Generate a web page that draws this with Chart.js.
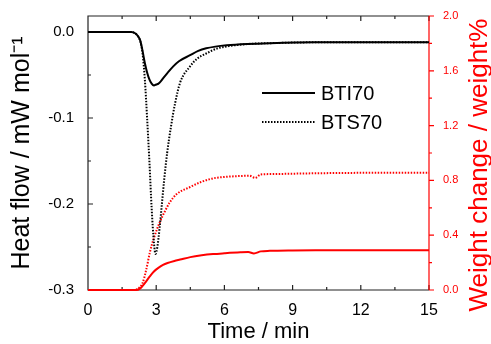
<!DOCTYPE html>
<html>
<head>
<meta charset="utf-8">
<script src="https://cdn.jsdelivr.net/npm/chart.js@4.4.1/dist/chart.umd.min.js"></script>
<style>
  html, body { margin: 0; padding: 0; background: #fff; }
</style>
</head>
<body>
<canvas id="myChart" width="491" height="344"></canvas>
<script>
const FONT = 'Arial, "Liberation Sans", sans-serif';

// heat flow, BTI70 (solid)
const btiHeatTime = [0, 1, 1.9, 2.0, 2.1, 2.2, 2.3, 2.4, 2.5, 2.6, 2.7, 2.8, 2.9, 3.0, 3.1, 3.2, 3.3, 3.5, 3.75, 4.0, 4.49, 4.85, 5.2, 5.6, 6.1, 7, 8, 10, 12, 15];
const btiHeat = [0, 0, 0, -0.0005, -0.002, -0.005, -0.01, -0.022, -0.036, -0.047, -0.055, -0.060, -0.0622, -0.061, -0.060, -0.0575, -0.054, -0.0475, -0.040, -0.034, -0.027, -0.022, -0.019, -0.017, -0.0155, -0.014, -0.013, -0.012, -0.012, -0.012];

// heat flow, BTS70 (dotted)
const btsHeatTime = [0, 1, 1.9, 2.0, 2.2, 2.3, 2.4, 2.5, 2.6, 2.7, 2.8, 2.9, 2.97, 3.05, 3.15, 3.25, 3.35, 3.48, 3.65, 3.83, 4.05, 4.49, 4.8, 5.2, 5.7, 6.3, 7, 8, 10, 12, 15];
const btsHeat = [0, 0, 0, -0.0005, -0.005, -0.011, -0.025, -0.055, -0.1, -0.15, -0.205, -0.245, -0.258, -0.25, -0.228, -0.2, -0.172, -0.141, -0.11, -0.083, -0.059, -0.040, -0.031, -0.025, -0.019, -0.016, -0.014, -0.013, -0.012, -0.012, -0.012];

// weight change, BTI70 (solid red)
const btiWeightTime = [0, 1, 2.1, 2.3, 2.5, 2.7, 2.9, 3.08, 3.3, 3.5, 3.8, 4.05, 4.5, 5.0, 5.5, 6.0, 6.7, 7.05, 7.3, 7.6, 8, 9, 10, 12, 15];
const btiWeight = [0, 0, 0, 0.012, 0.05, 0.095, 0.135, 0.16, 0.183, 0.197, 0.212, 0.222, 0.24, 0.253, 0.262, 0.268, 0.275, 0.277, 0.267, 0.282, 0.286, 0.289, 0.29, 0.29, 0.29];

// weight change, BTS70 (dotted red)
const btsWeightTime = [0, 1, 2.0, 2.2, 2.4, 2.55, 2.73, 2.9, 3.17, 3.4, 3.6, 3.9, 4.47, 5.0, 5.5, 6.0, 6.7, 7.1, 7.35, 7.6, 8, 10, 12, 15];
const btsWeight = [0, 0, 0, 0.01, 0.05, 0.14, 0.28, 0.38, 0.5, 0.58, 0.64, 0.7, 0.75, 0.79, 0.815, 0.825, 0.832, 0.834, 0.818, 0.843, 0.846, 0.852, 0.855, 0.855];

const xTicks = [0, 1.5, 3, 4.5, 6, 7.5, 9, 10.5, 12, 13.5, 15];
const heatTicks = [-0.3, -0.25, -0.2, -0.15, -0.1, -0.05, 0];
const weightTicks = [0, 0.2, 0.4, 0.6, 0.8, 1.0, 1.2, 1.4, 1.6, 1.8, 2.0];
const legendNames = ['BTI70', 'BTS70'];

const pts = (ts, vs) => ts.map((t, i) => ({x: t, y: vs[i]}));
const isMajor = (v, step) => Math.abs(v / step - Math.round(v / step)) < 1e-6;

// frame + inward/outward tick marks, drawn before the lines
const framePlugin = {
  id: 'frame',
  beforeDatasetsDraw(chart) {
    const c = chart.ctx;
    const {left, right, top, bottom} = chart.chartArea;
    const x = chart.scales.x, y = chart.scales.y, y1 = chart.scales.y1;
    c.save();
    c.lineWidth = 1.2;
    c.strokeStyle = '#222';
    c.beginPath();
    c.moveTo(right, top); c.lineTo(left, top); c.lineTo(left, bottom); c.lineTo(right, bottom);
    xTicks.forEach(v => {
      const px = x.getPixelForValue(v);
      const len = isMajor(v, 3) ? 5 : 3;
      c.moveTo(px, bottom); c.lineTo(px, bottom - len);
      c.moveTo(px, top); c.lineTo(px, top + len);
    });
    heatTicks.forEach(v => {
      const py = y.getPixelForValue(v);
      const len = isMajor(v, 0.1) ? 5 : 3;
      c.moveTo(left, py); c.lineTo(left + len, py);
    });
    c.stroke();
    c.strokeStyle = '#ff0000';
    c.beginPath();
    c.moveTo(right, top); c.lineTo(right, bottom);
    weightTicks.forEach(v => {
      const py = y1.getPixelForValue(v);
      const len = isMajor(v, 0.4) ? 5 : 3;
      c.moveTo(right, py); c.lineTo(right + len, py);
    });
    c.stroke();
    c.restore();
  },
  afterDraw(chart) {
    const c = chart.ctx;
    c.save();
    // right axis title, reading bottom to top
    c.fillStyle = '#ff0000';
    c.font = '26px ' + FONT;
    c.textAlign = 'center';
    c.textBaseline = 'middle';
    c.translate(480, 165);
    c.rotate(-Math.PI / 2);
    c.fillText('Weight change / weight%', 0, 0);
    c.restore();

    // legend
    c.save();
    c.strokeStyle = '#000';
    c.lineWidth = 2;
    c.fillStyle = '#000';
    c.font = '20px ' + FONT;
    c.textBaseline = 'middle';
    c.textAlign = 'left';
    [93, 122].forEach((ly, i) => {
      c.setLineDash(i === 0 ? [] : [1.5, 1.5]);
      c.beginPath();
      c.moveTo(262, ly); c.lineTo(315, ly);
      c.stroke();
      c.fillText(legendNames[i], 321, ly + 1);
    });
    c.restore();
  }
};

const ctx = document.getElementById('myChart').getContext('2d');

const chart = new Chart(ctx, {
  type: 'line',
  data: {
    datasets: [
      { label: legendNames[0], data: pts(btiHeatTime, btiHeat), yAxisID: 'y',
        borderColor: '#000', borderWidth: 2, pointRadius: 0, cubicInterpolationMode: 'monotone' },
      { label: legendNames[1], data: pts(btsHeatTime, btsHeat), yAxisID: 'y',
        borderColor: '#000', borderWidth: 2, borderDash: [1.5, 1.5], pointRadius: 0, cubicInterpolationMode: 'monotone' },
      { label: legendNames[0] + ' weight', data: pts(btiWeightTime, btiWeight), yAxisID: 'y1',
        borderColor: '#ff0000', borderWidth: 2, pointRadius: 0, cubicInterpolationMode: 'monotone', clip: false },
      { label: legendNames[1] + ' weight', data: pts(btsWeightTime, btsWeight), yAxisID: 'y1',
        borderColor: '#ff0000', borderWidth: 2, borderDash: [1.5, 1.5], pointRadius: 0, cubicInterpolationMode: 'monotone', clip: false }
    ]
  },
  options: {
    responsive: false,
    animation: false,
    layout: { padding: { top: 16, right: 0, left: 0, bottom: 0 } },
    plugins: { legend: { display: false }, tooltip: { enabled: false } },
    scales: {
      x: {
        type: 'linear',
        min: 0, max: 15,
        afterBuildTicks: s => { s.ticks = xTicks.map(v => ({value: v})); },
        afterFit: s => { s.height = 54; },
        grid: { display: false },
        border: { display: false },
        ticks: {
          color: '#000', padding: 3, maxRotation: 0, autoSkip: false,
          font: { family: FONT, size: 16 },
          callback: v => isMajor(v, 3) ? String(Math.round(v)) : ''
        },
        title: {
          display: true, text: 'Time / min', color: '#000',
          font: { family: FONT, size: 22, lineHeight: 1 },
          padding: { top: 0, bottom: 1 }
        }
      },
      y: {
        position: 'left',
        min: -0.3, max: 0.0186,
        afterBuildTicks: s => { s.ticks = heatTicks.map(v => ({value: v})); },
        afterFit: s => { s.width = 88; },
        grid: { display: false },
        border: { display: false },
        ticks: {
          color: '#000', padding: 6, autoSkip: false,
          font: { family: FONT, size: 15 },
          callback: v => isMajor(v, 0.1) ? (Math.abs(v) < 1e-9 ? '0.0' : v.toFixed(1)) : ''
        },
        title: {
          display: true, text: 'Heat flow / mW mol\u207B\u00B9', color: '#000',
          font: { family: FONT, size: 25, lineHeight: 1 },
          padding: { top: 10, bottom: 0 }
        }
      },
      y1: {
        position: 'right',
        min: 0, max: 2,
        afterBuildTicks: s => { s.ticks = weightTicks.map(v => ({value: v})); },
        afterFit: s => { s.width = 62; },
        grid: { display: false },
        border: { display: false },
        ticks: {
          color: '#ff0000', padding: 6, autoSkip: false,
          font: { family: FONT, size: 11 },
          callback: v => isMajor(v, 0.4) ? v.toFixed(1) : ''
        }
      }
    }
  },
  plugins: [framePlugin]
});
</script>
</body>
</html>
